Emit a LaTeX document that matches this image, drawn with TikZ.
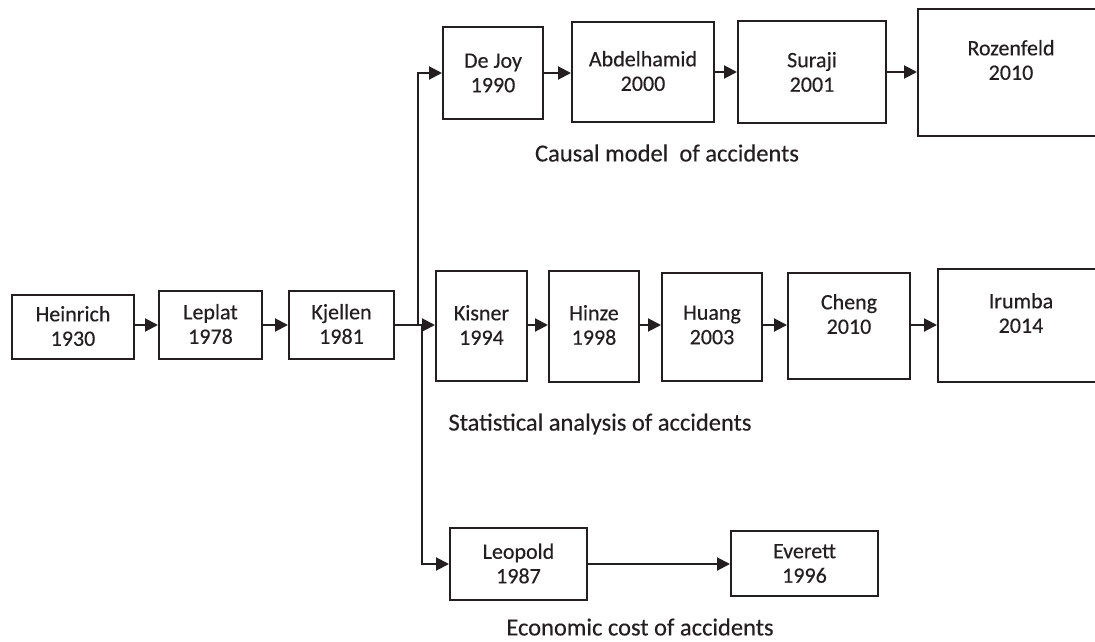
\documentclass[tikz,border=0pt]{standalone}
\usepackage{fontspec}
\setmainfont{Carlito}[FakeBold=0.3]
\usetikzlibrary{arrows.meta}
\definecolor{ink}{RGB}{35,31,32}
\tikzset{
  box/.style={draw=ink, line width=2pt, inner sep=0pt},
  txt/.style={text=ink, align=center, font=\fontsize{22}{24.5}\selectfont, inner sep=0pt},
  captxt/.style={text=ink, font=\fontsize{24.5}{28}\selectfont, inner sep=0pt},
  arr/.style={draw=ink, line width=2pt, -{Triangle[length=13pt,width=13pt]}},
  ln/.style={draw=ink, line width=2pt}
}
\begin{document}
\begin{tikzpicture}[x=1pt,y=-1pt]
\clip (0,0) rectangle (1095,642);
\fill[white] (0,0) rectangle (1095,642);
% boxes: centre, width, height
\node[box, minimum width=122pt, minimum height=64pt] (hei) at (73,327) {};
\node[txt] (heit) at (73,326) {Heinrich\\1930};
\node[box, minimum width=103pt, minimum height=68pt] (lep) at (210.5,325) {};
\node[txt] (lept) at (210.5,324) {Leplat\\1978};
\node[box, minimum width=105pt, minimum height=68pt] (kje) at (341.5,325) {};
\node[txt] (kjet) at (341.5,324) {Kjellen\\1981};
% causal row
\node[box, minimum width=100pt, minimum height=92pt] (dej) at (493,73) {};
\node[txt] (dejt) at (493,73) {De Joy\\1990};
\node[box, minimum width=142pt, minimum height=100pt] (abd) at (643,72) {};
\node[txt] (abdt) at (643,71) {Abdelhamid\\2000};
\node[box, minimum width=148pt, minimum height=102pt] (sur) at (812,72) {};
\node[txt] (surt) at (812,72) {Suraji\\2001};
\node[box, minimum width=186pt, minimum height=127pt] (roz) at (1011,72.5) {};
\node[txt] (rozt) at (1011,60) {Rozenfeld\\2010};
% statistical row
\node[box, minimum width=91pt, minimum height=110pt] (kis) at (481.5,326) {};
\node[txt] (kist) at (481.5,325) {Kisner\\1994};
\node[box, minimum width=90pt, minimum height=111pt] (hin) at (594,326.5) {};
\node[txt] (hint) at (594,325) {Hinze\\1998};
\node[box, minimum width=100pt, minimum height=108pt] (hua) at (712,327) {};
\node[txt] (huat) at (712,325) {Huang\\2003};
\node[box, minimum width=122pt, minimum height=106pt] (che) at (849,326) {};
\node[txt] (chet) at (849,314) {Cheng\\2010};
\node[box, minimum width=166pt, minimum height=113pt] (iru) at (1021,325.5) {};
\node[txt] (irut) at (1021,313) {Irumba\\2014};
% economic row
\node[box, minimum width=137pt, minimum height=72pt] (leo) at (518.5,564) {};
\node[txt] (leot) at (518.5,563.5) {Leopold\\1987};
\node[box, minimum width=147pt, minimum height=65pt] (eve) at (804.5,563.5) {};
\node[txt] (evet) at (804.5,563.5) {Everett\\1996};
% captions
\node[captxt] (c1) at (667,153) {Causal model~ of accidents};
\node[captxt] (c2) at (600,424) {Statistical analysis of accidents};
\node[captxt] (c3) at (640,627) {Economic cost of accidents};
% connectors
\coordinate (j1) at (418,325);
\coordinate (j2) at (422,325);
\draw[arr] (hei.east |- lep.west) -- (lep.west);
\draw[arr] (lep.east) -- (kje.west);
\draw[arr] (kje.east) -- (kis.west |- kje.east);
\draw[arr] (j1) |- (dej.west);
\draw[arr] (j2) |- (leo.west);
\draw[arr] (dej.east) -- (abd.west |- dej.east);
\draw[arr] (abd.east) -- (sur.west |- abd.east);
\draw[arr] (sur.east) -- (roz.west |- sur.east);
\draw[arr] (kis.east |- kje.east) -- (hin.west |- kje.east);
\draw[arr] (hin.east |- kje.east) -- (hua.west |- kje.east);
\draw[arr] (hua.east |- kje.east) -- (che.west |- kje.east);
\draw[arr] (che.east |- kje.east) -- (iru.west |- kje.east);
\draw[arr] (leo.east) -- (eve.west |- leo.east);
\end{tikzpicture}
\end{document}
